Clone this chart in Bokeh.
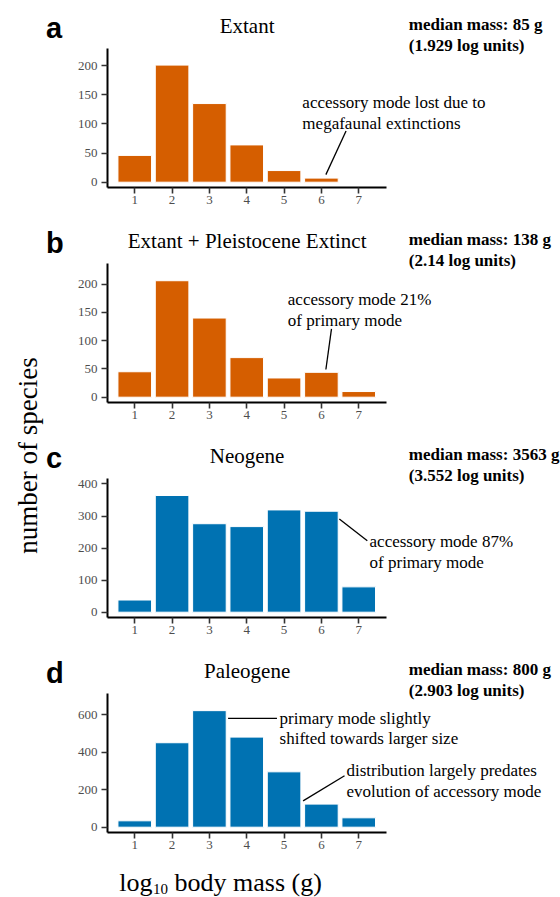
import math
from bokeh.plotting import figure
from bokeh.models import Range1d, FixedTicker
from bokeh.layouts import column, row
from bokeh.embed import file_html
from bokeh.resources import INLINE
from bokeh.core.properties import value

# ---------------- data ----------------
bins = [1, 2, 3, 4, 5, 6, 7]
x_tick_labels = ["1", "2", "3", "4", "5", "6", "7"]
extant = [46, 201, 135, 64, 20, 7, 0]
extant_pleistocene = [45, 206, 140, 70, 34, 44, 10]
neogene = [38, 364, 276, 267, 319, 315, 79]
paleogene = [34, 450, 621, 480, 295, 123, 50]

panel_letters = ["a", "b", "c", "d"]
panel_titles = ["Extant", "Extant + Pleistocene Extinct", "Neogene", "Paleogene"]
median_mass_g = ["85", "138", "3563", "800"]
median_log_units = ["1.929", "2.14", "3.552", "2.903"]
y_ticks = [[0, 50, 100, 150, 200], [0, 50, 100, 150, 200],
           [0, 100, 200, 300, 400], [0, 200, 400, 600]]
y_axis_top = [230, 237, 418, 714]

ORANGE = "#D55E00"
BLUE = "#0072B2"
series = [extant, extant_pleistocene, neogene, paleogene]
colors = [ORANGE, ORANGE, BLUE, BLUE]

# annotation texts (x, y in data units, y = baseline) and pointer segments
annotations = [
    dict(texts=[(5.49, 128, "accessory mode lost due to"), (5.49, 92, "megafaunal extinctions")],
         segs=[(6.66, 88, 6.12, 13)]),
    dict(texts=[(5.10, 164, "accessory mode 21%"), (5.10, 127, "of primary mode")],
         segs=[(6.27, 121, 6.12, 49)]),
    dict(texts=[(7.29, 206, "accessory mode 87%"), (7.29, 139, "of primary mode")],
         segs=[(6.48, 291, 7.23, 223)]),
    dict(texts=[(4.88, 553, "primary mode slightly"), (4.88, 447, "shifted towards larger size"),
                (6.67, 274, "distribution largely predates"), (6.67, 163, "evolution of accessory mode")],
         segs=[(3.50, 580, 4.81, 580), (5.51, 140, 6.62, 274)]),
]

# ---------------- layout constants ----------------
SERIF = "Liberation Serif"
SANS = "Liberation Sans"
PAGE_W = 560
PAGE_H = 897
LEFT_W = 70
PANEL_H = 215
FIG_W = PAGE_W - LEFT_W
BORDER_L = 37
FRAME_H = 187
BORDER_B = PANEL_H - FRAME_H
ZERO_PX = 181.7          # px from figure top to y = 0
AXIS_SPAN_PX = 134.0     # px from y = 0 to the top of the y axis line
X_LO = 0.27
PX_PER_X = 37.33
X_HI = X_LO + (FIG_W - BORDER_L) / PX_PER_X
X_AXIS_END = 7.75
BASE_FIX = 0.3           # baseline correction (fraction of font size)

TITLE_FS, NOTE_FS, LETTER_FS, AXT_FS, SUB_FS = 21, 17, 29, 26, 15


def make_panel(i):
    k = AXIS_SPAN_PX / y_axis_top[i]            # px per count
    y_lo = -(FRAME_H - ZERO_PX) / k
    y_hi = ZERO_PX / k
    p = figure(width=FIG_W, height=PANEL_H, x_range=Range1d(X_LO, X_HI),
               y_range=Range1d(y_lo, y_hi), output_backend="svg",
               toolbar_location=None, title=None, min_border=0,
               min_border_left=BORDER_L, min_border_right=0,
               min_border_top=0, min_border_bottom=BORDER_B)
    p.outline_line_color = None
    p.xgrid.visible = False
    p.ygrid.visible = False
    p.background_fill_color = "white"
    p.border_fill_color = "white"

    p.vbar(x=bins, top=series[i], width=0.9, bottom=0,
           fill_color=colors[i], line_color="white", line_width=1)

    for ax in (p.xaxis[0], p.yaxis[0]):
        ax.axis_line_color = "black"
        ax.axis_line_width = 2
        ax.major_tick_line_color = "#333333"
        ax.major_tick_line_width = 1.6
        ax.major_tick_out = 6
        ax.major_tick_in = 0
        ax.minor_tick_line_color = None
        ax.major_label_text_font = SERIF
        ax.major_label_text_font_size = "13px"
        ax.major_label_text_color = "#4D4D4D"
    p.xaxis.ticker = FixedTicker(ticks=bins)
    p.xaxis.major_label_overrides = {b: l for b, l in zip(bins, x_tick_labels)}
    p.xaxis.bounds = (X_LO, X_AXIS_END)
    p.xaxis.major_label_standoff = 2
    p.yaxis.ticker = FixedTicker(ticks=y_ticks[i])
    p.yaxis.bounds = (y_lo, y_axis_top[i])
    p.yaxis.major_label_standoff = 4

    def y_at(px_from_top, fs):
        return (ZERO_PX - (px_from_top - BASE_FIX * fs)) / k

    fix_note = BASE_FIX * NOTE_FS / k

    # title centred over the axis extent
    p.text(x=[(X_LO + X_AXIS_END) / 2], y=[y_at(31.7, TITLE_FS)], text=[panel_titles[i]],
           text_font=value(SERIF), text_font_size="%dpx" % TITLE_FS, text_align="center",
           text_baseline="alphabetic", text_color="black")
    # median annotation
    p.text(x=[8.34, 8.34], y=[y_at(29.5, NOTE_FS), y_at(50.2, NOTE_FS)],
           text=["median mass: %s g" % median_mass_g[i], "(%s log units)" % median_log_units[i]],
           text_font=value(SERIF), text_font_size="%dpx" % NOTE_FS, text_font_style="bold",
           text_align="left", text_baseline="alphabetic", text_color="black")
    # in-plot annotations
    ann = annotations[i]
    p.text(x=[t[0] for t in ann["texts"]], y=[t[1] + fix_note for t in ann["texts"]],
           text=[t[2] for t in ann["texts"]], text_font=value(SERIF),
           text_font_size="%dpx" % NOTE_FS,
           text_align="left", text_baseline="alphabetic", text_color="black")
    p.segment(x0=[s[0] for s in ann["segs"]], y0=[s[1] for s in ann["segs"]],
              x1=[s[2] for s in ann["segs"]], y1=[s[3] for s in ann["segs"]],
              line_color="black", line_width=1.3)
    return p


panels = [make_panel(i) for i in range(4)]

# left strip: y-axis title and panel letters (coordinates = page pixels)
left = figure(width=LEFT_W, height=PANEL_H * 4, x_range=Range1d(0, LEFT_W),
              y_range=Range1d(PANEL_H * 4, 0), output_backend="svg",
              toolbar_location=None, title=None, min_border=0,
              x_axis_type=None, y_axis_type=None)
left.outline_line_color = None
left.xgrid.visible = False
left.ygrid.visible = False
left.text(x=[36 - BASE_FIX * 27], y=[455], text=["number of species"], angle=math.pi / 2,
          text_font=value(SERIF), text_font_size="27px", text_align="center",
          text_baseline="alphabetic", text_color="black")
left.text(x=[45.5] * 4, y=[36 - BASE_FIX * LETTER_FS + PANEL_H * j for j in range(4)],
          text=panel_letters, text_font=value(SANS), text_font_size="%dpx" % LETTER_FS,
          text_font_style="bold", text_align="left", text_baseline="alphabetic",
          text_color="black")

# bottom strip: x-axis title with subscript
BOTTOM_H = PAGE_H - PANEL_H * 4
bottom = figure(width=PAGE_W, height=BOTTOM_H, x_range=Range1d(0, PAGE_W),
                y_range=Range1d(PAGE_H, PANEL_H * 4), output_backend="svg",
                toolbar_location=None, title=None, min_border=0,
                x_axis_type=None, y_axis_type=None)
bottom.outline_line_color = None
bottom.xgrid.visible = False
bottom.ygrid.visible = False
main_y = 890 - BASE_FIX * AXT_FS
bottom.text(x=[118.8], y=[main_y], text=["log"], text_font=value(SERIF),
            text_font_size="%dpx" % AXT_FS, text_align="left",
            text_baseline="alphabetic", text_color="black")
bottom.text(x=[152.5], y=[893 - BASE_FIX * SUB_FS], text=["10"], text_font=value(SERIF),
            text_font_size="%dpx" % SUB_FS, text_align="left",
            text_baseline="alphabetic", text_color="black")
bottom.text(x=[174], y=[main_y], text=["body mass (g)"], text_font=value(SERIF),
            text_font_size="%dpx" % AXT_FS, text_align="left", text_baseline="alphabetic",
            text_color="black")

layout = column(row(left, column(*panels)), bottom)
open("out.html", "w").write(file_html(layout, INLINE))
